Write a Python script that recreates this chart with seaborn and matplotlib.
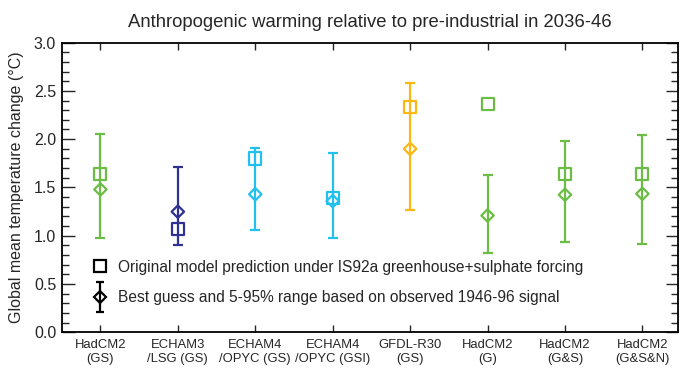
import matplotlib
matplotlib.use("Agg")
import matplotlib.pyplot as plt
import seaborn as sns
import pandas as pd
import numpy as np
from matplotlib.lines import Line2D
from matplotlib.legend_handler import HandlerErrorbar
from matplotlib.container import ErrorbarContainer
from matplotlib.ticker import MultipleLocator

models = ["HadCM2\n(GS)", "ECHAM3\n/LSG (GS)", "ECHAM4\n/OPYC (GS)", "ECHAM4\n/OPYC (GSI)",
          "GFDL-R30\n(GS)", "HadCM2\n(G)", "HadCM2\n(G&S)", "HadCM2\n(G&S&N)"]
original = [1.64, 1.07, 1.80, 1.39, 2.33, 2.36, 1.64, 1.64]
best = [1.48, 1.25, 1.43, 1.36, 1.90, 1.21, 1.425, 1.435]
low = [0.975, 0.90, 1.057, 0.975, 1.27, 0.82, 0.94, 0.92]
high = [2.05, 1.71, 1.905, 1.86, 2.585, 1.63, 1.98, 2.04]
colors = ["#6cbd45", "#2e3192", "#22c0ef", "#22c0ef", "#fbb714", "#6cbd45", "#6cbd45", "#6cbd45"]

df = pd.DataFrame({"model": models, "original": original, "best": best,
                   "low": low, "high": high})

sns.set_style("ticks")
plt.rcParams["font.family"] = ["Liberation Sans", "DejaVu Sans"]

fig = plt.figure(figsize=(6.81, 3.68), dpi=100)
ax = fig.add_axes([0.0906, 0.0965, 0.905, 0.788])

pos = np.arange(len(models))
for i, row in df.iterrows():
    ax.errorbar(pos[i], row["best"],
                yerr=[[row["best"] - row["low"]], [row["high"] - row["best"]]],
                fmt="none", ecolor=colors[i], elinewidth=1.6, capsize=3.5, capthick=1.6, zorder=2)

sns.scatterplot(data=df, x=pos, y="original", hue="model", palette=colors, marker="s",
                s=75, linewidth=1.6, legend=False, ax=ax, zorder=3)
sns.scatterplot(data=df, x=pos, y="best", hue="model", palette=colors, marker="D",
                s=40, linewidth=1.6, legend=False, ax=ax, zorder=3)
# make markers hollow with coloured edges
for coll in ax.collections:
    fc = coll.get_facecolors()
    if len(fc):
        coll.set_edgecolors(fc)
        coll.set_facecolors("none")

ax.set_xlim(-0.5, 7.46)
ax.set_ylim(0, 3.0)
ax.set_xticks(pos)
ax.set_xticklabels(models, fontsize=9.4, linespacing=1.2)
ax.yaxis.set_minor_locator(MultipleLocator(0.1))
ax.set_yticks(np.arange(0, 3.01, 0.5))
ax.set_yticklabels([f"{v:.1f}" for v in np.arange(0, 3.01, 0.5)], fontsize=11.5)
ax.tick_params(axis="y", which="major", direction="in", length=9, width=1, left=True, right=True, pad=4)
ax.tick_params(axis="y", which="minor", direction="in", length=5, width=1, left=True, right=True)
ax.tick_params(axis="x", which="major", direction="in", length=5, width=1, top=True, bottom=True, pad=5)
for sp in ax.spines.values():
    sp.set_visible(True)
    sp.set_linewidth(1.3)
    sp.set_color("black")
ax.set_xlabel("")
ax.set_ylabel("Global mean temperature change (°C)", fontsize=11.5, labelpad=7)
ax.set_title("Anthropogenic warming relative to pre-industrial in 2036-46", fontsize=13.3, pad=11)

# legend handles built on a throwaway figure so nothing is drawn on the chart
tmp_fig, tmp_ax = plt.subplots()
h2 = tmp_ax.errorbar([0], [0], yerr=[[0.1], [0.1]], fmt="D", mfc="none", mec="black",
                     ecolor="black", mew=1.6, ms=6, elinewidth=1.6, capsize=3, capthick=1.6)
h1 = Line2D([], [], marker="s", ls="none", mfc="none", mec="black", mew=1.6, ms=8)
ax.legend([h1, h2], ["Original model prediction under IS92a greenhouse+sulphate forcing",
                     "Best guess and 5-95% range based on observed 1946-96 signal"],
          loc="lower left", bbox_to_anchor=(0.024, 0.045), frameon=False, fontsize=11.2,
          handlelength=1.25, handletextpad=0.5, labelspacing=1.0, borderaxespad=0.5,
          handler_map={ErrorbarContainer: HandlerErrorbar(yerr_size=0.95)})
plt.close(tmp_fig)

fig.savefig("out.png", dpi=100)
